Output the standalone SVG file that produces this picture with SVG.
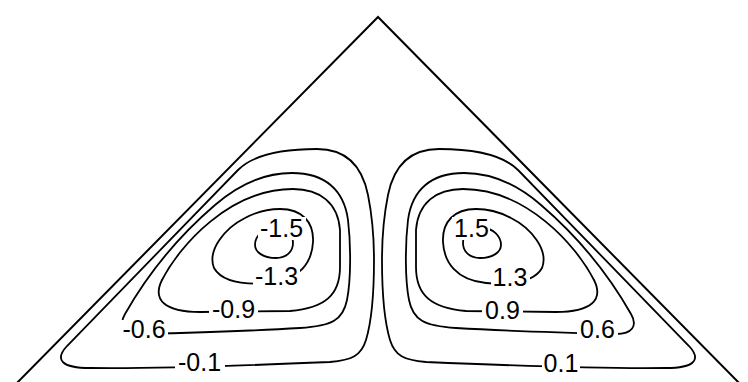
<svg xmlns="http://www.w3.org/2000/svg" xmlns:xlink="http://www.w3.org/1999/xlink" width="748" height="382" viewBox="0 0 748 382">
<style>
.edge{fill:none;stroke:#000;stroke-width:2;stroke-linejoin:miter}
.c{fill:none;stroke:#000;stroke-width:1.8}
.lbl{font-family:"Liberation Sans",Arial,sans-serif;font-size:25px;fill:#000;text-anchor:middle}
</style>
<defs>
<mask id="gaps" maskUnits="userSpaceOnUse" x="0" y="0" width="748" height="382">
<rect x="0" y="0" width="748" height="382" fill="#fff"/>
<rect x="258" y="217" width="48" height="23" fill="#000"/>
<rect x="253" y="265" width="47" height="24" fill="#000"/>
<rect x="209" y="298" width="49" height="24" fill="#000"/>
<rect x="120" y="320" width="48" height="22" fill="#000"/>
<rect x="175" y="350" width="50" height="26" fill="#000"/>
<rect x="452" y="217" width="38" height="23" fill="#000"/>
<rect x="491" y="265" width="39" height="25" fill="#000"/>
<rect x="482" y="298" width="41" height="24" fill="#000"/>
<rect x="577" y="318" width="41" height="24" fill="#000"/>
<rect x="542" y="350" width="38" height="26" fill="#000"/>
</mask>
<g id="lobe">
<path class="c" d="M317,149 C345,149 362,165 368,195 C372,215 374,240 374,260 C374,290 372,320 366,340 C361,356 352,360 330,362 C260,365 160,369 90,368 C62,368 54,360 67,346 L238,170 C255,153 285,149 317,149 Z"/>
<path class="c" d="M292,173 C325,173 344,190 348,220 C351,245 351,280 347,300 C343,320 332,326 300,328 C250,331 180,333 140,334 C124,334 118,326 125,314 C150,270 180,235 215,205 C238,185 262,173 292,173 Z"/>
<path class="c" d="M293,189 C320,189 338,203 340,230 L340,267 C340,295 325,308 290,311 L200,312 C165,312 152,300 162,280 C180,245 230,189 293,189 Z"/>
<path class="c" d="M280,209 C302,209 314,222 313,242 C312,262 300,280 270,283 C245,285 222,282 214,268 C207,250 225,228 245,218 C258,211 268,209 280,209 Z"/>
<path class="c" d="M274,228 C286,228 293,234 293,243 C293,252 286,258 276,258 C263,258 255,252 255,245 C255,236 263,228 274,228 Z"/>
</g>
</defs>
<g id="triangle">
<path class="edge" d="M10,390 L378,17 L746,390"/>
</g>
<g id="contours" mask="url(#gaps)">
<g id="left-vortex"><use href="#lobe" xlink:href="#lobe"/></g>
<g id="right-vortex" transform="matrix(-1 0 0 1 756 0)"><use href="#lobe" xlink:href="#lobe"/></g>
</g>
<g id="labels">
<text class="lbl" x="281.5" y="237">-1.5</text>
<text class="lbl" x="276.5" y="285">-1.3</text>
<text class="lbl" x="233.5" y="318">-0.9</text>
<text class="lbl" x="144" y="338">-0.6</text>
<text class="lbl" x="199.5" y="371">-0.1</text>
<text class="lbl" x="471.5" y="237">1.5</text>
<text class="lbl" x="510" y="286">1.3</text>
<text class="lbl" x="502.5" y="319">0.9</text>
<text class="lbl" x="597.5" y="338">0.6</text>
<text class="lbl" x="561" y="372">0.1</text>
</g>
</svg>
